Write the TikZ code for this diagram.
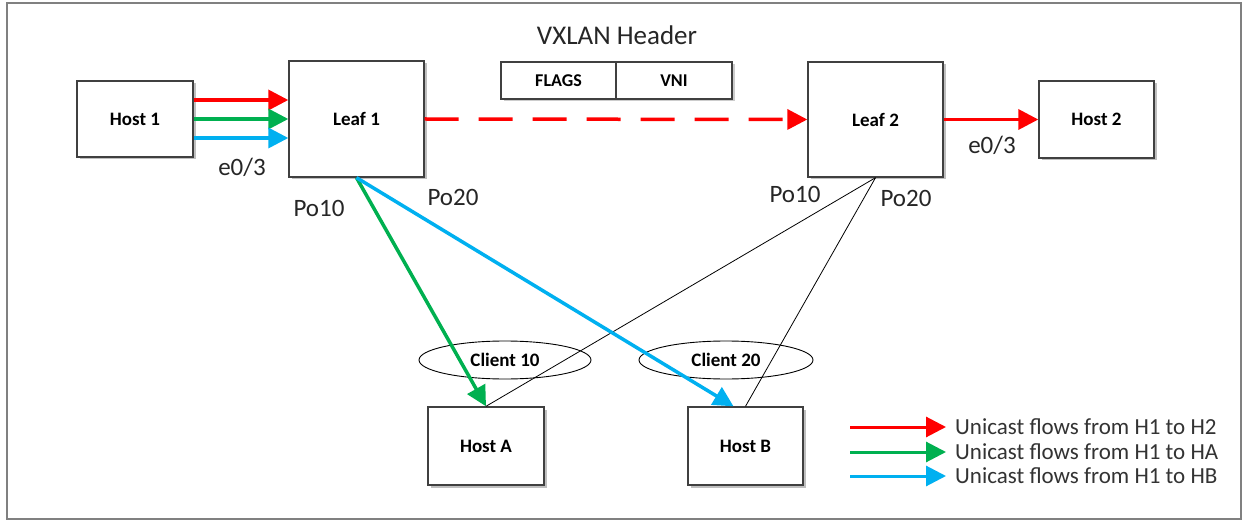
\documentclass[tikz,border=0pt]{standalone}
\usepackage{fontspec}
\setmainfont{Carlito}
\usetikzlibrary{arrows.meta,shapes.geometric,shadows}
\definecolor{fred}{HTML}{FF0000}
\definecolor{fgreen}{HTML}{00B050}
\definecolor{fblue}{HTML}{00B0F0}
\definecolor{boxline}{HTML}{404040}
\tikzset{
  devbox/.style={draw=boxline, line width=1.4pt, fill=white, inner sep=0pt,
     font=\fontsize{19}{22}\selectfont\bfseries,
     drop shadow={shadow xshift=2.5pt, shadow yshift=-2.5pt, opacity=0.25, fill=black}},
  hdrbox/.style={draw=boxline, line width=1.4pt, fill=white, inner sep=0pt,
     font=\fontsize{18}{21}\selectfont\bfseries,
     drop shadow={shadow xshift=2.5pt, shadow yshift=-2.5pt, opacity=0.2, fill=black}},
  portlbl/.style={font=\fontsize{25}{28}\selectfont, text=black!85, inner sep=0pt},
  flow/.style={line width=3.5pt, -{Triangle[length=20pt,width=20pt]}},
  thin/.style={line width=0.8pt, draw=black},
  client/.style={ellipse, draw=black, line width=0.9pt, inner sep=0pt,
     font=\fontsize{19}{22}\selectfont\bfseries},
  legtxt/.style={font=\fontsize{23}{26}\selectfont, text=black!80, anchor=west, inner sep=0pt},
}
\begin{document}
\begin{tikzpicture}[x=1pt,y=-1pt]
\useasboundingbox (0,0) rectangle (1249,521);
\fill[white] (0,0) rectangle (1249,521);
\node[draw=black!50, line width=2pt, inner sep=0pt, minimum width=1234pt, minimum height=516pt] (frame) at (624,261) {};

% devices
\node[devbox, minimum width=116pt, minimum height=76pt] (H1) at (135,119) {Host 1};
\node[devbox, minimum width=135pt, minimum height=116pt] (L1) at (356.5,119) {Leaf 1};
\node[devbox, minimum width=135pt, minimum height=115pt] (L2) at (875.5,119.5) {Leaf 2};
\node[devbox, minimum width=115pt, minimum height=77pt] (H2) at (1096.5,119.5) {Host 2};
\node[devbox, minimum width=116pt, minimum height=78pt] (HA) at (486,446) {Host A};
\node[devbox, minimum width=115pt, minimum height=78pt] (HB) at (745.5,446) {Host B};

% VXLAN header
\node[font=\fontsize{27}{30}\selectfont, text=black!85, inner sep=0pt] (vxt) at (617,35) {VXLAN Header};
\node[hdrbox, minimum width=115pt, minimum height=37pt] (flags) at (558.5,80.5) {FLAGS};
\node[hdrbox, minimum width=116pt, minimum height=37pt] (vni) at (674,80.5) {VNI};

% clients
\node[client, minimum width=172pt, minimum height=38pt] (C10) at (505,360) {Client 10};
\node[client, minimum width=174pt, minimum height=38pt] (C20) at (726,360) {Client 20};

% thin links
\draw[thin] (L2.south) -- (HA.north);
\draw[thin] (L2.south) -- (HB.north);

% flows
\draw[flow, fred] ([yshift=19pt]H1.east) -- ([yshift=19pt]L1.west);
\draw[flow, fgreen] (H1.east) -- (L1.west);
\draw[flow, fblue] ([yshift=-19pt]H1.east) -- ([yshift=-19pt]L1.west);
\draw[flow, fred, dash pattern=on 34pt off 20pt] (L1.east) -- (L2.west);
\draw[flow, fred] (L2.east) -- (H2.west);
\draw[flow, fgreen] (L1.south) -- (HA.north);
\draw[flow, fblue] (L1.south) -- ([xshift=-12pt]HB.north);

% port labels
\node[portlbl] (e1) at (242,167) {e0/3};
\node[portlbl] (e2) at (992,145) {e0/3};
\node[portlbl] (p10a) at (319,208) {Po10};
\node[portlbl] (p20a) at (453,197) {Po20};
\node[portlbl] (p10b) at (795,194) {Po10};
\node[portlbl] (p20b) at (906,198) {Po20};

% legend
\coordinate (la1) at (850,427); \coordinate (lb1) at (946,427);
\coordinate (la2) at (850,452); \coordinate (lb2) at (946,452);
\coordinate (la3) at (850,476); \coordinate (lb3) at (946,476);
\draw[flow, line width=3pt, fred] (la1) -- (lb1);
\draw[flow, line width=3pt, fgreen] (la2) -- (lb2);
\draw[flow, line width=3pt, fblue] (la3) -- (lb3);
\node[legtxt] (t1) at (955,427) {Unicast flows from H1 to H2};
\node[legtxt] (t2) at (955,452) {Unicast flows from H1 to HA};
\node[legtxt] (t3) at (955,476) {Unicast flows from H1 to HB};
\end{tikzpicture}
\end{document}
